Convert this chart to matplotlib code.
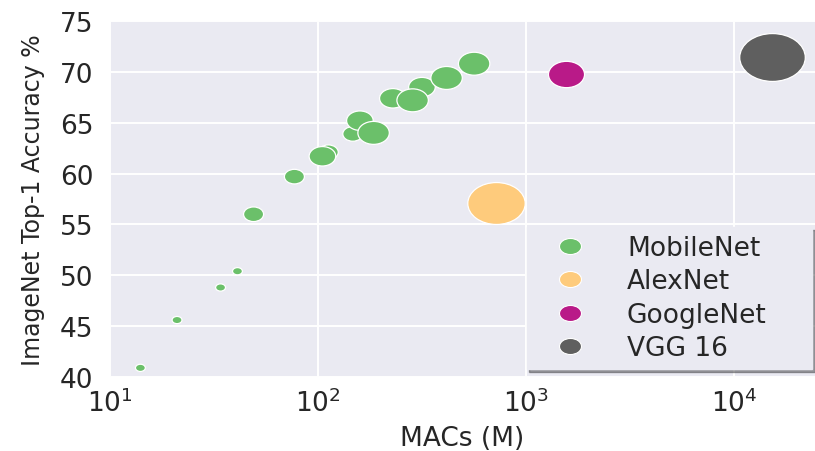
import numpy as np
import matplotlib
matplotlib.use("Agg")
import matplotlib.pyplot as plt
from matplotlib.path import Path
from matplotlib.transforms import Affine2D
from matplotlib.lines import Line2D

# ---------------- data ----------------
categories = ["MobileNet", "AlexNet", "GoogleNet", "VGG 16"]

mobilenet_macs = [14, 21, 34, 41, 49, 77, 112, 147, 105, 159, 229, 316, 185, 285, 415, 563]
mobilenet_acc = [40.9, 45.6, 48.8, 50.4, 56.0, 59.7, 62.1, 63.9, 61.7, 65.2, 67.4, 68.5, 64.0, 67.2, 69.4, 70.8]
mobilenet_params = [0.47, 0.47, 0.47, 0.47, 1.32, 1.32, 1.32, 1.32,
                    2.59, 2.59, 2.59, 2.59, 4.24, 4.24, 4.24, 4.24]

alexnet_macs = [720]
alexnet_acc = [57.1]
alexnet_params = [60.0]

googlenet_macs = [1550]
googlenet_acc = [69.8]
googlenet_params = [6.8]

vgg_macs = [15300]
vgg_acc = [71.5]
vgg_params = [138.0]

x_ticks = [10, 100, 1000, 10000]
y_ticks = [40, 45, 50, 55, 60, 65, 70, 75]

# ---------------- style ----------------
colors = ["#6BC06A", "#FECB7C", "#B91A88", "#5F5F5F"]
bg = "#EAEAF2"
txt = "#262626"
DPI = 100
stretch = 1.37  # reference is horizontally stretched
ellipse = Path.unit_circle().transformed(Affine2D().scale(1.0, 1.0 / stretch))


def marker_area(params):
    w_px = 10.5 + 9.8 * np.log(np.asarray(params) / 0.5)
    return (w_px * 72.0 / DPI) ** 2


fig = plt.figure(figsize=(8.15, 4.52), dpi=DPI)
ax = fig.add_axes([110 / 815, 1 - 378 / 452, 705 / 815, 356 / 452])
ax.set_facecolor(bg)
for s in ax.spines.values():
    s.set_visible(False)

ax.set_xscale("log")
ax.set_xlim(10, 24500)
ax.set_ylim(40, 75)
ax.set_xticks(x_ticks)
ax.set_yticks(y_ticks)
ax.minorticks_off()
ax.grid(True, color="white", linewidth=1.4)
ax.set_axisbelow(True)
ax.tick_params(axis="both", length=0, labelsize=19, labelcolor=txt)
ax.tick_params(axis="y", pad=12)
ax.tick_params(axis="x", pad=8)

series = [
    (mobilenet_macs, mobilenet_acc, mobilenet_params),
    (alexnet_macs, alexnet_acc, alexnet_params),
    (googlenet_macs, googlenet_acc, googlenet_params),
    (vgg_macs, vgg_acc, vgg_params),
]
for (xs, ys, ps), c in zip(series, colors):
    ax.scatter(xs, ys, s=marker_area(ps), c=c, marker=ellipse,
               edgecolors="white", linewidths=0.9, zorder=3)

ax.set_xlabel("MACs (M)", fontsize=19, color=txt, labelpad=6)
ax.set_ylabel("ImageNet Top-1 Accuracy %", fontsize=17, color=txt, labelpad=11)

handles = [Line2D([], [], linestyle="none", marker=ellipse, markersize=22 * 72 / DPI,
                  markerfacecolor=c, markeredgecolor="white", markeredgewidth=0.8)
           for c in colors]
leg = ax.legend(handles, categories, loc="lower left",
                bbox_to_anchor=(0.591, 0.022, 0.405, 0.4), mode="expand",
                borderaxespad=0, fontsize=19, frameon=True, shadow=True,
                facecolor=bg, edgecolor=bg, framealpha=1, fancybox=False,
                handlelength=2.7, handletextpad=0.8, labelspacing=0.28, borderpad=0.3)
for t in leg.get_texts():
    t.set_color(txt)

fig.savefig("out.png", dpi=DPI)
